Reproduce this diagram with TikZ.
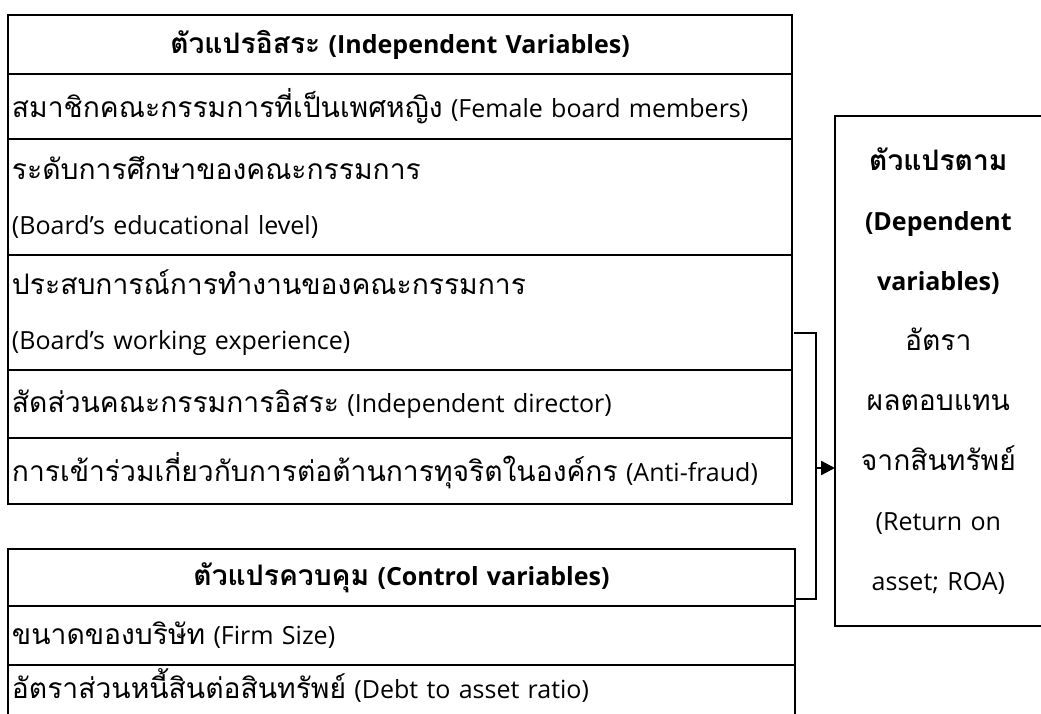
\documentclass[tikz,border=0pt]{standalone}
\usepackage{fontspec}
\setmainfont{Open Sans}
\newfontfamily\thaifont[Script=Thai,Scale=1.13]{Loma}
\usepackage{tikz}
\usetikzlibrary{arrows.meta,positioning}

\newcommand{\thtext}[1]{{\thaifont #1}}

\begin{document}
\begin{tikzpicture}[x=1pt,y=-1pt,>={Triangle[length=14pt,width=14pt]},
line width=2.3pt]

\tikzstyle{cell}=[draw,rectangle,outer sep=0pt,inner xsep=4pt,
  text width=776pt,align=left,font=\fontsize{25}{55}\selectfont]
\tikzstyle{head}=[cell,align=center,font=\bfseries\fontsize{25}{55}\selectfont]
\tikzstyle{depbox}=[draw,rectangle,outer sep=0pt,line width=1.6pt,
  text width=200pt,align=center,minimum height=510pt,
  font=\fontsize{25}{60}\selectfont]

\clip (0,0) rectangle (1041,714);

% independent variables
\node[head, minimum height=59pt, anchor=north west] (IVhead) at (8,15)
  {\thtext{ตัวแปรอิสระ} (Independent Variables)};
\node[cell, minimum height=65pt, below=0pt of IVhead] (IVfemale)
  {\thtext{สมาชิกคณะกรรมการที่เป็นเพศหญิง} (Female board members)};
\node[cell, minimum height=116pt, below=0pt of IVfemale] (IVedu)
  {\thtext{ระดับการศึกษาของคณะกรรมการ}\\(Board’s educational level)};
\node[cell, minimum height=115pt, below=0pt of IVedu] (IVexp)
  {\thtext{ประสบการณ์การทำงานของคณะกรรมการ}\\(Board’s working experience)};
\node[cell, minimum height=68pt, below=0pt of IVexp] (IVindep)
  {\thtext{สัดส่วนคณะกรรมการอิสระ} (Independent director)};
\node[cell, minimum height=66pt, below=0pt of IVindep] (IVfraud)
  {\thtext{การเข้าร่วมเกี่ยวกับการต่อต้านการทุจริตในองค์กร} (Anti-fraud)};

% control variables
\node[head, text width=779pt, minimum height=57pt, anchor=north west] (CVhead) at (8,549)
  {\thtext{ตัวแปรควบคุม} (Control variables)};
\node[cell, text width=779pt, minimum height=59pt, below=0pt of CVhead] (CVsize)
  {\thtext{ขนาดของบริษัท} (Firm Size)};
\node[cell, text width=779pt, text depth=24pt, below=0pt of CVsize] (CVdebt)
  {\thtext{อัตราส่วนหนี้สินต่อสินทรัพย์} (Debt to asset ratio)};

% dependent variable
\node[depbox, anchor=north west] (DV) at (835,116)
  {\textbf{\thtext{ตัวแปรตาม}}\\\textbf{(Dependent}\\\textbf{variables)}\\
   \thtext{อัตรา}\\\thtext{ผลตอบแทน}\\\thtext{จากสินทรัพย์}\\(Return on\\asset; ROA)};

% connector
\coordinate (ivport) at (794,333);
\coordinate (cvport) at (795,599);
\coordinate (bend) at (816,468);
\draw (ivport) -| (bend) |- (cvport);
\draw[->] (bend) -- (DV.west |- bend);
\end{tikzpicture}
\end{document}
